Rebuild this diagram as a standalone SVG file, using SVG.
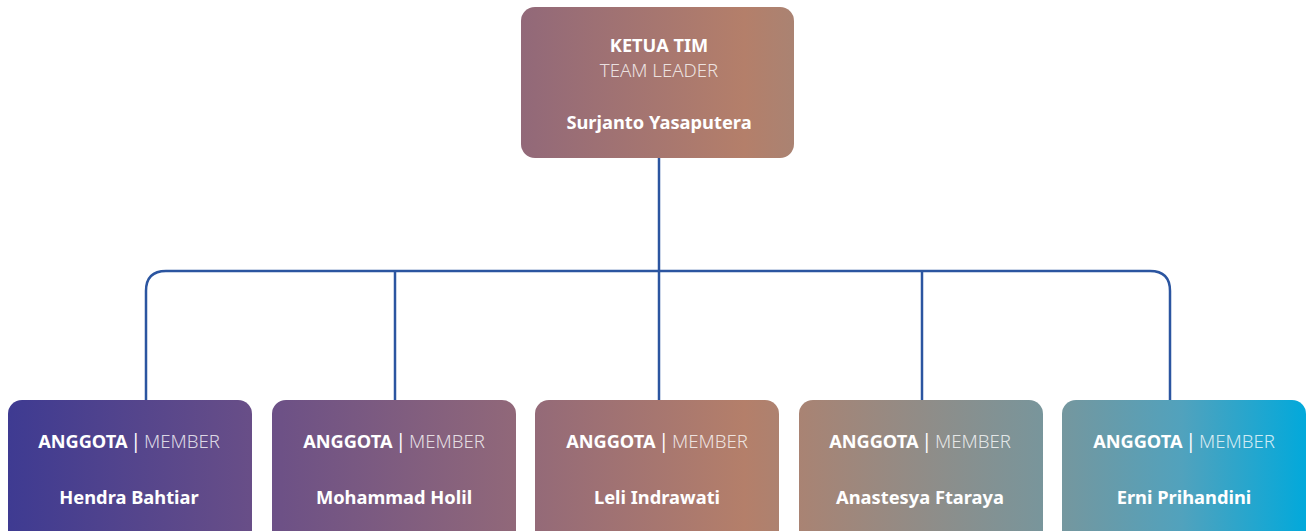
<svg xmlns="http://www.w3.org/2000/svg" width="1306" height="531" viewBox="0 0 1306 531">
<defs>
<linearGradient id="g" gradientUnits="userSpaceOnUse" x1="0" y1="0" x2="1306" y2="0">
<stop offset="0" stop-color="#3d3a92"/>
<stop offset="0.2" stop-color="#6a4f87"/>
<stop offset="0.41" stop-color="#946a78"/>
<stop offset="0.57" stop-color="#b47f6a"/>
<stop offset="0.815" stop-color="#74979f"/>
<stop offset="0.905" stop-color="#51a2bd"/>
<stop offset="1" stop-color="#02a9db"/>
</linearGradient>
</defs>
<style>
.box{fill:url(#g)}
.t{font-family:"Noto Sans","Open Sans",sans-serif;fill:#fff;text-anchor:middle}
.b{font-weight:700;font-size:18.2px}
.p{font-weight:400;font-size:19px}
.l{font-weight:300;font-size:18.6px;fill-opacity:0.8}
.n{font-weight:700;font-size:18.3px}
.c{fill:none;stroke:#2b55a0;stroke-width:2.5}
</style>
<g id="connectors">
<path class="c" d="M659,158 V400"/>
<path class="c" d="M146,400 V291 Q146,271 166,271 H1150 Q1170,271 1170,291 V400"/>
<path class="c" d="M395,271 V400"/>
<path class="c" d="M922,271 V400"/>
</g>
<g id="leader">
<rect class="box" x="521" y="7" width="273" height="151" rx="14"/>
<text class="t b" x="659" y="52">KETUA TIM</text>
<text class="t l" x="659" y="77">TEAM LEADER</text>
<text class="t n" x="659" y="129">Surjanto Yasaputera</text>
</g>
<g id="m1">
<rect class="box" x="8" y="400" width="244" height="150" rx="14"/>
<text class="t" x="129" y="448"><tspan class="b">ANGGOTA</tspan><tspan class="p" dx="3">|</tspan><tspan class="l" dx="3">MEMBER</tspan></text>
<text class="t n" x="129" y="504">Hendra Bahtiar</text>
</g>
<g id="m2">
<rect class="box" x="272" y="400" width="244" height="150" rx="14"/>
<text class="t" x="394" y="448"><tspan class="b">ANGGOTA</tspan><tspan class="p" dx="3">|</tspan><tspan class="l" dx="3">MEMBER</tspan></text>
<text class="t n" x="394" y="504">Mohammad Holil</text>
</g>
<g id="m3">
<rect class="box" x="535" y="400" width="244" height="150" rx="14"/>
<text class="t" x="657" y="448"><tspan class="b">ANGGOTA</tspan><tspan class="p" dx="3">|</tspan><tspan class="l" dx="3">MEMBER</tspan></text>
<text class="t n" x="657" y="504">Leli Indrawati</text>
</g>
<g id="m4">
<rect class="box" x="799" y="400" width="244" height="150" rx="14"/>
<text class="t" x="920" y="448"><tspan class="b">ANGGOTA</tspan><tspan class="p" dx="3">|</tspan><tspan class="l" dx="3">MEMBER</tspan></text>
<text class="t n" x="920" y="504">Anastesya Ftaraya</text>
</g>
<g id="m5">
<rect class="box" x="1062" y="400" width="244" height="150" rx="14"/>
<text class="t" x="1184" y="448"><tspan class="b">ANGGOTA</tspan><tspan class="p" dx="3">|</tspan><tspan class="l" dx="3">MEMBER</tspan></text>
<text class="t n" x="1184" y="504">Erni Prihandini</text>
</g>
</svg>
